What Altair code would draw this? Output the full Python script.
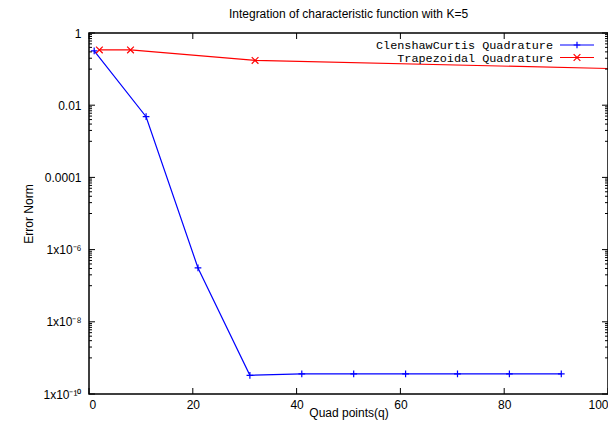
import altair as alt
import pandas as pd
import math

# ---- data ----
cc_q = [1, 11, 21, 31, 41, 51, 61, 71, 81, 91]
cc_err = [0.32, 4.8e-3, 3.1e-7, 3.3e-10, 3.6e-10, 3.6e-10, 3.6e-10, 3.6e-10, 3.6e-10, 3.6e-10]
tr_q = [2, 8, 32, 128]
tr_err = [0.34, 0.34, 0.174, 0.084]

series_names = ["ClenshawCurtis Quadrature", "Trapezoidal Quadrature"]
series_colors = ["#0000ff", "#ff0000"]

x_ticks = [0, 20, 40, 60, 80, 100]
y_ticks = [1, 1e-2, 1e-4, 1e-6, 1e-8, 1e-10]
y_tick_labels = ["1", "0.01", "0.0001", "1x10\u207b\u2076", "1x10\u207b\u2078", "1x10\u207b\u00b9\u2070"]
y_minor = [m * 10.0 ** e for e in [-1, -3, -5, -7, -9] for m in range(1, 10)]

W, H = 519, 361
FONT = "Liberation Sans"
PLUS = "M-1,0L1,0M0,-1L0,1"
CROSS = "M-1,-1L1,1M-1,1L1,-1"

cc = pd.DataFrame({"x": cc_q, "y": cc_err})
tr = pd.DataFrame({"x": tr_q, "y": tr_err})

xscale = alt.Scale(domain=[0, 100], nice=False, zero=False)
yscale = alt.Scale(type="log", domain=[1e-10, 1], nice=False)

# label expression built from the tick lists
expr = "''"
for v, lab in zip(reversed(y_ticks), reversed(y_tick_labels)):
    expr = f"(abs(log(datum.value)/LN10 - ({math.log10(v):.0f})) < 0.01 ? '{lab}' : {expr})"

xaxis = alt.Axis(values=x_ticks, ticks=False, tickSize=0, domain=False, grid=False,
                 labelFont=FONT, labelFontSize=12, labelColor="black", labelPadding=5,
                 title="Quad points(q)", titleFont=FONT, titleFontSize=12, titleFontWeight="normal",
                 titleColor="black", titleY=13, titleBaseline="top")
yaxis = alt.Axis(values=y_ticks, labelExpr=expr, ticks=False, tickSize=0, domain=False, grid=False,
                 labelFont=FONT, labelFontSize=12, labelColor="black", labelPadding=8,
                 title="Error Norm", titleFont=FONT, titleFontSize=12, titleFontWeight="normal",
                 titleColor="black", titleX=-54, titleY=H / 2, titleAngle=270, titleBaseline="bottom")

def series_layers(df, color, shape):
    X = alt.X("x:Q", scale=xscale, axis=xaxis)
    Y = alt.Y("y:Q", scale=yscale, axis=yaxis)
    line = alt.Chart(df).mark_line(color=color, strokeWidth=1.2, clip=True).encode(x=X, y=Y)
    pts = alt.Chart(df).mark_point(shape=shape, filled=False, size=45, strokeWidth=1.2,
                                   color=color, opacity=1, clip=True).encode(x=X, y=Y)
    return [line, pts]

# tick marks (inward, mirrored)
ymaj = pd.DataFrame({"y": y_ticks})
ymin = pd.DataFrame({"y": y_minor})
xmaj = pd.DataFrame({"x": x_ticks})
Yt = alt.Y("y:Q", scale=yscale, axis=yaxis)
Xt = alt.X("x:Q", scale=xscale, axis=xaxis)
tick_layers = [
    alt.Chart(ymaj).mark_rule(color="black", strokeWidth=1).encode(y=Yt, x=alt.value(0), x2=alt.value(6)),
    alt.Chart(ymaj).mark_rule(color="black", strokeWidth=1).encode(y=Yt, x=alt.value(W), x2=alt.value(W - 6)),
    alt.Chart(ymin).mark_rule(color="black", strokeWidth=1).encode(y=Yt, x=alt.value(0), x2=alt.value(3)),
    alt.Chart(ymin).mark_rule(color="black", strokeWidth=1).encode(y=Yt, x=alt.value(W), x2=alt.value(W - 3)),
    alt.Chart(xmaj).mark_rule(color="black", strokeWidth=1).encode(x=Xt, y=alt.value(H), y2=alt.value(H - 6)),
    alt.Chart(xmaj).mark_rule(color="black", strokeWidth=1).encode(x=Xt, y=alt.value(0), y2=alt.value(6)),
]

# frame
frame = alt.Chart(pd.DataFrame({"k": [0]})).mark_rect(fill=None, stroke="black", strokeWidth=1.5).encode(
    x=alt.value(0), x2=alt.value(W), y=alt.value(0), y2=alt.value(H))

# legend (gnuplot style: text then sample)
legend_layers = []
for i, (name, color, shape) in enumerate(zip(series_names, series_colors, [PLUS, CROSS])):
    ly = 12 + i * 12.5
    d = pd.DataFrame({"name": [name]})
    legend_layers.append(alt.Chart(d).mark_text(align="right", baseline="middle", font="Liberation Mono",
                                                fontSize=11.8, color="black").encode(
        text="name:N", x=alt.value(464), y=alt.value(ly)))
    legend_layers.append(alt.Chart(d).mark_rule(color=color, strokeWidth=1.2).encode(
        x=alt.value(471), x2=alt.value(505), y=alt.value(ly)))
    legend_layers.append(alt.Chart(d).mark_point(shape=shape, filled=False, size=45, strokeWidth=1.2,
                                                 color=color, opacity=1).encode(
        x=alt.value(488), y=alt.value(ly)))

layers = series_layers(cc, series_colors[0], PLUS) + series_layers(tr, series_colors[1], CROSS)
chart = alt.layer(*layers, *tick_layers, frame, *legend_layers).properties(
    width=W, height=H,
    title=alt.TitleParams("Integration of characteristic function with K=5", font=FONT, fontSize=12,
                          fontWeight="normal", color="black", anchor="middle", frame="group", offset=6),
    autosize=alt.AutoSizeParams(type="none"),
    padding={"left": 81, "top": 25, "right": 0, "bottom": 26},
).configure(background="white").configure_view(stroke=None)

chart.save("out.html", embed_options={"renderer": "svg", "actions": False})
